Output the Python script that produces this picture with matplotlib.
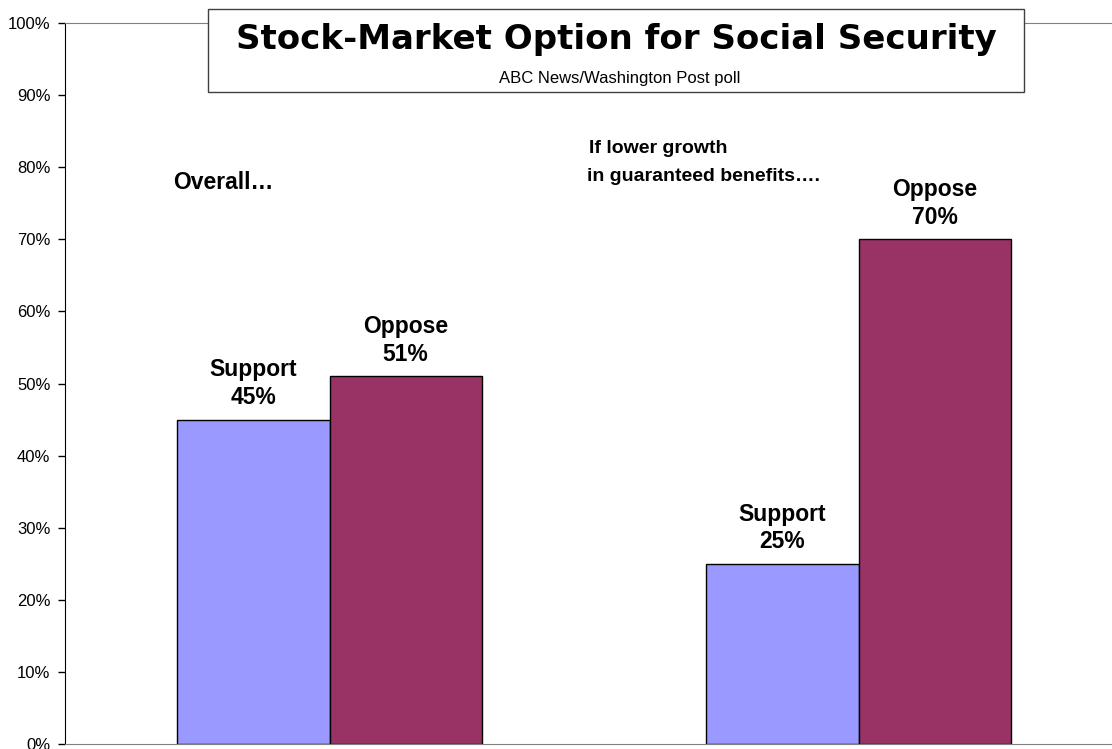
import numpy as np
import matplotlib.pyplot as plt
from matplotlib.patches import Rectangle

plt.rcParams['font.family'] = ['Liberation Sans', 'DejaVu Sans']

groups = ["Overall…", "If lower growth\nin guaranteed benefits…."]
support = [45, 25]
oppose = [51, 70]
yticks = [0, 10, 20, 30, 40, 50, 60, 70, 80, 90, 100]

fig = plt.figure(figsize=(11.12, 7.49), dpi=100)
ax = fig.add_axes([65/1112, 5/749, 1 - 65/1112 + 0.01, 721/749])

x = np.arange(len(groups))
w = 0.288
ax.bar(x - w/2, support, w, color="#9999FF", edgecolor="black", linewidth=1)
ax.bar(x + w/2, oppose, w, color="#993366", edgecolor="black", linewidth=1)

# 2行のラベル（名前と値）
def label(xi, v, name):
    ax.annotate("%d%%" % v, (xi, v), xytext=(0, 11), textcoords="offset points",
                ha="center", va="baseline", fontsize=16.5, fontweight="bold")
    ax.annotate(name, (xi, v), xytext=(0, 31), textcoords="offset points",
                ha="center", va="baseline", fontsize=16.5, fontweight="bold")

for xi, v in zip(x - w/2, support):
    label(xi, v, "Support")
for xi, v in zip(x + w/2, oppose):
    label(xi, v, "Oppose")

ax.text(-0.296, 77.0, groups[0], ha="left", va="baseline", fontsize=16.5, fontweight="bold")
lines = groups[1].split("\n")
ax.text(0.491, 82.0, lines[0], ha="left", va="baseline", fontsize=14, fontweight="bold")
ax.text(0.487, 78.1, lines[1], ha="left", va="baseline", fontsize=14, fontweight="bold")

ax.set_xlim(-0.5, 1.5)
ax.set_ylim(0, 100)
ax.set_yticks(yticks)
ax.set_yticklabels(["%d%%" % t for t in yticks], fontsize=12)
ax.set_xticks([])
ax.tick_params(axis="y", direction="out", length=5, width=1, pad=5.5)

ax.spines["right"].set_visible(False)
ax.spines["top"].set_color("#808080")
ax.spines["bottom"].set_color("#808080")
ax.spines["left"].set_color("black")

# タイトルの枠
fig.patches.append(Rectangle((208/1112, 1 - 92/749), 816/1112, 83/749,
                             transform=fig.transFigure, facecolor="white",
                             edgecolor="#404040", linewidth=1, zorder=5))
fig.text(616/1112, 1 - 49/749, "Stock-Market Option for Social Security",
         ha="center", va="baseline", fontsize=24.5, fontweight="bold",
         family="DejaVu Sans", zorder=6)
fig.text(620/1112, 1 - 83/749, "ABC News/Washington Post poll",
         ha="center", va="baseline", fontsize=12, zorder=6)

plt.savefig("out.png", dpi=100)
